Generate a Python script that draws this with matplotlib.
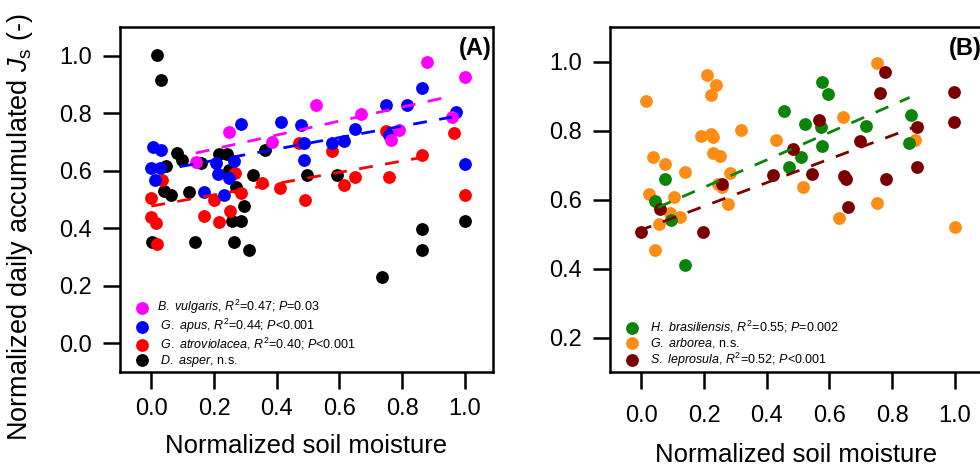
import numpy as np
import matplotlib
matplotlib.use("Agg")
import matplotlib.pyplot as plt
from matplotlib.ticker import FormatStrFormatter

plt.rcParams['font.family'] = ['Liberation Sans', 'DejaVu Sans']
plt.rcParams['mathtext.fontset'] = 'custom'
plt.rcParams['mathtext.rm'] = 'Liberation Sans'
plt.rcParams['mathtext.it'] = 'Liberation Sans:italic'
plt.rcParams['mathtext.bf'] = 'Liberation Sans:bold'
plt.rcParams['lines.scale_dashes'] = False

# ---------------- Panel A data ----------------
bv_x = [0.142, 0.248, 0.386, 0.524, 0.668, 0.790, 0.764, 0.880, 1.000, 0.958]
bv_y = [0.629, 0.736, 0.701, 0.830, 0.797, 0.741, 0.707, 0.977, 0.925, 0.787]

ga_x = [0.005, 0.030, -0.002, 0.027, 0.012, 0.285, 0.205, 0.264, 0.214, 0.248,
        0.168, 0.232, 0.413, 0.477, 0.487, 0.487, 0.577, 0.615, 0.650, 0.748,
        0.817, 0.862, 0.758, 0.971, 1.000]
ga_y = [0.684, 0.672, 0.611, 0.609, 0.569, 0.764, 0.627, 0.634, 0.590, 0.575,
        0.525, 0.514, 0.770, 0.759, 0.698, 0.638, 0.696, 0.703, 0.745, 0.828,
        0.830, 0.887, 0.724, 0.804, 0.623]

gat_x = [0.035, -0.002, -0.002, 0.014, 0.019, 0.168, 0.216, 0.200, 0.251, 0.267,
         0.285, 0.354, 0.410, 0.471, 0.577, 0.748, 0.966, 0.490, 0.615, 0.650,
         0.758, 0.862, 1.000]
gat_y = [0.569, 0.506, 0.440, 0.417, 0.345, 0.442, 0.422, 0.500, 0.460, 0.592,
         0.521, 0.558, 0.540, 0.696, 0.667, 0.738, 0.730, 0.500, 0.552, 0.578,
         0.580, 0.655, 0.514]

da_x = [0.017, 0.030, 0.083, 0.099, 0.216, 0.240, 0.158, 0.046, 0.363, 0.248,
        0.323, 0.271, 0.041, 0.062, 0.120, 0.296, 0.258, 0.285, 0.003, 0.139,
        0.264, 0.312, 0.498, 0.593, 0.737, 0.862, 0.865, 1.000]
da_y = [1.002, 0.916, 0.661, 0.638, 0.657, 0.657, 0.627, 0.615, 0.672, 0.603,
        0.584, 0.543, 0.529, 0.517, 0.527, 0.479, 0.425, 0.425, 0.353, 0.351,
        0.353, 0.325, 0.586, 0.586, 0.230, 0.397, 0.325, 0.425]

# regression lines: [slope, intercept, x_start, x_end]
fit_bv = [0.243, 0.627, 0.142, 0.955]
fit_ga = [0.199, 0.596, 0.090, 0.960]
fit_gat = [0.196, 0.477, 0.000, 0.907]

# ---------------- Panel B data ----------------
hb_x = [0.042, 0.074, 0.096, 0.140, 0.455, 0.471, 0.510, 0.521, 0.574, 0.577,
        0.577, 0.595, 0.718, 0.859, 0.854]
hb_y = [0.596, 0.659, 0.540, 0.411, 0.857, 0.693, 0.724, 0.819, 0.811, 0.756,
        0.941, 0.907, 0.814, 0.845, 0.763]

gar_x = [0.016, 0.211, 0.239, 0.221, 0.189, 0.223, 0.228, 0.317, 0.037, 0.074,
         0.138, 0.228, 0.252, 0.282, 0.026, 0.104, 0.244, 0.258, 0.276, 0.431,
         0.515, 0.643, 0.752, 0.872, 0.753, 0.630, 0.055, 0.090, 0.124, 0.042,
         1.000]
gar_y = [0.886, 0.961, 0.932, 0.903, 0.783, 0.791, 0.782, 0.801, 0.724, 0.704,
         0.681, 0.736, 0.727, 0.678, 0.617, 0.606, 0.645, 0.635, 0.588, 0.772,
         0.635, 0.840, 0.997, 0.772, 0.591, 0.546, 0.529, 0.562, 0.548, 0.454,
         0.521]

sl_x = [0.000, 0.058, 0.197, 0.258, 0.420, 0.484, 0.545, 0.567, 0.648, 0.652,
        0.659, 0.699, 0.762, 0.776, 0.781, 0.880, 0.880, 0.999, 0.999]
sl_y = [0.507, 0.572, 0.507, 0.646, 0.672, 0.746, 0.674, 0.830, 0.668, 0.658,
        0.577, 0.770, 0.910, 0.971, 0.659, 0.811, 0.693, 0.912, 0.826]

fit_hb = [0.397, 0.556, 0.053, 0.856]
fit_sl = [0.342, 0.512, -0.010, 0.909]

labels_A = [r"$\it{B.\ vulgaris}$, $\it{R}^{2}$=0.47; $\it{P}$=0.03",
            r" $\it{G.\ apus}$, $\it{R}^{2}$=0.44; $\it{P}$<0.001",
            r" $\it{G.\ atroviolacea}$, $\it{R}^{2}$=0.40; $\it{P}$<0.001",
            r" $\it{D.\ asper}$, n.s."]
labels_B = [r"$\it{H.\ brasiliensis}$, $\it{R}^{2}$=0.55; $\it{P}$=0.002",
            r"$\it{G.\ arborea}$, n.s.",
            r"$\it{S.\ leprosula}$, $\it{R}^{2}$=0.52; $\it{P}$<0.001"]

xticks = [0.0, 0.2, 0.4, 0.6, 0.8, 1.0]
yticks_A = [0.0, 0.2, 0.4, 0.6, 0.8, 1.0]
yticks_B = [0.2, 0.4, 0.6, 0.8, 1.0]

C_MAG, C_BLUE, C_RED, C_BLK = '#ff00ff', '#0000ff', '#ff0000', '#000000'
C_GRN, C_ORG, C_DRD = '#0a850a', '#ff8c14', '#7a0000'

MS = 85
DASH = (0, (10, 9))
LW = 2.0

fig = plt.figure(figsize=(9.8, 4.7), dpi=100)
axA = fig.add_axes([120/980, 98/470, 373/980, 345/470])
axB = fig.add_axes([610/980, 98/470, 373/980, 345/470])


def fitline(ax, fit, color):
    k, b, x0, x1 = fit
    xs = np.array([x0, x1])
    ax.plot(xs, k*xs + b, color=color, lw=LW, linestyle=DASH, zorder=5)


# Panel A
hA_da = axA.scatter(da_x, da_y, s=MS, color=C_BLK, linewidths=0, zorder=2)
hA_gat = axA.scatter(gat_x, gat_y, s=MS, color=C_RED, linewidths=0, zorder=3)
hA_ga = axA.scatter(ga_x, ga_y, s=MS, color=C_BLUE, linewidths=0, zorder=3)
hA_bv = axA.scatter(bv_x, bv_y, s=MS, color=C_MAG, linewidths=0, zorder=4)
fitline(axA, fit_bv, C_MAG)
fitline(axA, fit_ga, C_BLUE)
fitline(axA, fit_gat, C_RED)

# Panel B
hB_gar = axB.scatter(gar_x, gar_y, s=MS, color=C_ORG, linewidths=0, zorder=2)
hB_hb = axB.scatter(hb_x, hb_y, s=MS, color=C_GRN, linewidths=0, zorder=3)
hB_sl = axB.scatter(sl_x, sl_y, s=MS, color=C_DRD, linewidths=0, zorder=4)
fitline(axB, fit_hb, C_GRN)
fitline(axB, fit_sl, C_DRD)

for ax in (axA, axB):
    ax.set_xlim(-0.1, 1.09)
    ax.set_xticks(xticks)
    ax.xaxis.set_major_formatter(FormatStrFormatter('%.1f'))
    ax.yaxis.set_major_formatter(FormatStrFormatter('%.1f'))
    for sp in ax.spines.values():
        sp.set_linewidth(1.8)
    ax.tick_params(direction='out', length=12, width=1.8, labelsize=17)

axA.set_ylim(-0.1, 1.1)
axA.set_yticks(yticks_A)
axB.set_ylim(0.1, 1.1)
axB.set_yticks(yticks_B)
axA.tick_params(axis='x', pad=7)
axA.tick_params(axis='y', pad=8)
axB.tick_params(axis='x', pad=12)
axB.tick_params(axis='y', pad=8)

axA.set_xlabel("Normalized soil moisture", fontsize=18.5, labelpad=10)
axB.set_xlabel("Normalized soil moisture", fontsize=18.5, labelpad=11)

fig.text(20/980, 1 - 227/470, r"Normalized daily accumulated $\it{J}_{\rm s}$ (-)",
         rotation=90, ha='center', va='center', fontsize=19.5)

axA.text(0.997, 0.97, "(A)", transform=axA.transAxes, ha='right', va='top',
         fontsize=17, fontweight='bold')
axB.text(0.997, 0.97, "(B)", transform=axB.transAxes, ha='right', va='top',
         fontsize=17, fontweight='bold')

axA.legend([hA_bv, hA_ga, hA_gat, hA_da], labels_A, loc='lower left',
           bbox_to_anchor=(0.041, 0.01), frameon=False, fontsize=9,
           handlelength=1.0, handletextpad=0.7, labelspacing=0.05,
           borderpad=0, borderaxespad=0, scatterpoints=1)
axB.legend([hB_hb, hB_gar, hB_sl], labels_B, loc='lower left',
           bbox_to_anchor=(0.0415, 0.01), frameon=False, fontsize=9,
           handlelength=1.0, handletextpad=0.95, labelspacing=0.05,
           borderpad=0, borderaxespad=0, scatterpoints=1)

fig.savefig("out.png", dpi=100)
